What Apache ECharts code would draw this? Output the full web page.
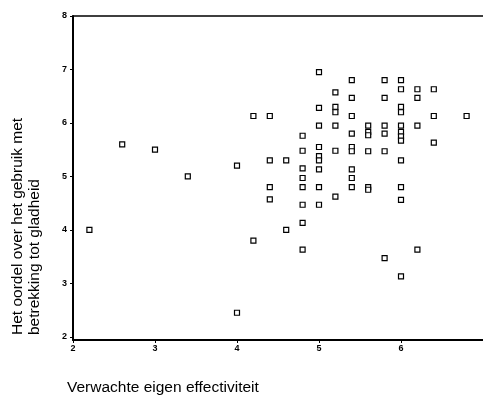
<!DOCTYPE html>
<html>
<head>
<meta charset="utf-8">
<script src="https://cdn.jsdelivr.net/npm/echarts@6/dist/echarts.min.js"></script>
<style>
  html, body { margin: 0; padding: 0; background: #fff; }
  #main { width: 483px; height: 396px; }
</style>
</head>
<body>
<div id="main"></div>
<script>
// x values (eigen effectiviteit) and matching y values (oordeel)
const xValues = [
  2.2, 2.6, 3.0, 3.4, 4.0, 4.0, 4.2, 4.2,
  4.4, 4.4, 4.4, 4.4, 4.6, 4.6,
  4.8, 4.8, 4.8, 4.8, 4.8, 4.8, 4.8, 4.8,
  5.0, 5.0, 5.0, 5.0, 5.0, 5.0, 5.0, 5.0, 5.0,
  5.2, 5.2, 5.2, 5.2, 5.2, 5.2,
  5.4, 5.4, 5.4, 5.4, 5.4, 5.4, 5.4, 5.4, 5.4,
  5.6, 5.6, 5.6, 5.6, 5.6, 5.6,
  5.8, 5.8, 5.8, 5.8, 5.8, 5.8,
  6.0, 6.0, 6.0, 6.0, 6.0, 6.0, 6.0, 6.0, 6.0, 6.0, 6.0, 6.0,
  6.2, 6.2, 6.2, 6.2,
  6.4, 6.4, 6.4,
  6.8
];
const yValues = [
  4.0, 5.6, 5.5, 5.0, 5.2, 2.45, 6.13, 3.8,
  6.13, 5.3, 4.8, 4.57, 5.3, 4.0,
  5.76, 5.48, 5.15, 4.97, 4.8, 4.47, 4.13, 3.63,
  6.95, 6.28, 5.95, 5.55, 5.38, 5.3, 5.13, 4.8, 4.47,
  6.57, 6.3, 6.2, 5.95, 5.48, 4.62,
  6.8, 6.47, 6.13, 5.8, 5.55, 5.47, 5.13, 4.97, 4.8,
  5.95, 5.83, 5.77, 5.47, 4.8, 4.75,
  6.8, 6.47, 5.95, 5.8, 5.47, 3.47,
  6.8, 6.63, 6.3, 6.2, 5.95, 5.83, 5.75, 5.67, 5.3, 4.8, 4.56, 3.13,
  6.63, 6.47, 5.95, 3.63,
  6.63, 6.13, 5.63,
  6.13
];
const xTicks = [2, 3, 4, 5, 6];
const yTicks = [2, 3, 4, 5, 6, 7, 8];

const xLabel = 'Verwachte eigen effectiviteit';
const yLabel1 = 'Het oordel over het gebruik met';
const yLabel2 = 'betrekking tot gladheid';

let myChart = echarts.init(document.getElementById('main'));

const points = xValues.map((x, i) => [x, yValues[i]]);
const tickFont = { fontFamily: 'Liberation Sans, Arial, sans-serif', fontSize: 9, fontWeight: 'bold', color: '#000' };
const nameFont = '15.5px Liberation Sans, Arial, sans-serif';

let options = {
  animation: false,
  backgroundColor: '#fff',
  grid: { left: 73, top: 16, right: 0, bottom: 56 },
  xAxis: [
    {
      type: 'value', min: 2, max: 7,
      axisLine: { lineStyle: { color: '#000', width: 2 } },
      axisTick: { length: 3, lineStyle: { color: '#000' }, customValues: xTicks },
      axisLabel: Object.assign({ margin: 4, customValues: xTicks }, tickFont),
      splitLine: { show: false }
    },
    {
      type: 'value', min: 2, max: 7, position: 'top',
      axisLine: { show: true, lineStyle: { color: '#000', width: 1.5 } },
      axisTick: { show: false }, axisLabel: { show: false },
      splitLine: { show: false }
    }
  ],
  yAxis: {
    type: 'value', min: 1.94, max: 8,
    axisLine: { show: true, lineStyle: { color: '#000', width: 2 } },
    axisTick: { show: true, length: 3, lineStyle: { color: '#000' }, customValues: yTicks },
    axisLabel: Object.assign({ margin: 6, customValues: yTicks }, tickFont),
    splitLine: { show: false }
  },
  graphic: [
    {
      type: 'text', x: 18, y: 335, rotation: Math.PI / 2,
      style: { text: yLabel1, font: nameFont, fill: '#000', align: 'left', verticalAlign: 'middle' }
    },
    {
      type: 'text', x: 35, y: 335, rotation: Math.PI / 2,
      style: { text: yLabel2, font: nameFont, fill: '#000', align: 'left', verticalAlign: 'middle' }
    },
    {
      type: 'text', x: 67, y: 388,
      style: { text: xLabel, font: nameFont, fill: '#000', align: 'left', verticalAlign: 'middle' }
    }
  ],
  series: [
    {
      type: 'scatter',
      data: points,
      symbol: 'rect',
      symbolSize: 5,
      itemStyle: { color: '#fff', borderColor: '#000', borderWidth: 1.2, opacity: 1 }
    }
  ]
};

myChart.setOption(options);
</script>
</body>
</html>
